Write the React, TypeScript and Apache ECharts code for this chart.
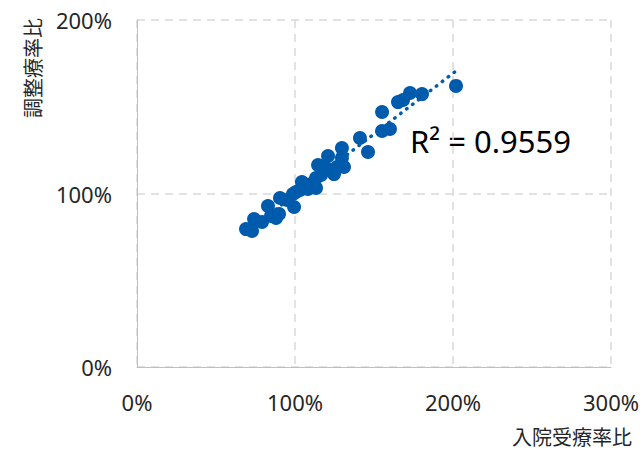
import React, { useEffect, useRef } from "react";
import * as echarts from "echarts";

// 入院受療率比 (x, %) and 調整療率比 (y, %)
const inpatientRatio = [
  69.0, 72.8, 74.1, 79.1, 82.9, 84.8, 88.0, 90.5, 89.9, 94.9,
  98.7, 100.6, 99.4, 103.2, 104.4, 106.3, 108.2, 110.1, 113.3, 113.3,
  114.6, 116.5, 119.6, 120.9, 124.7, 126.6, 129.7, 129.7, 131.0, 141.1,
  146.2, 155.1, 155.1, 160.1, 165.2, 168.4, 172.8, 180.4, 201.9,
];
const adjustedRatio = [
  79.5, 78.4, 85.3, 83.6, 92.8, 87.0, 85.9, 97.4, 88.2, 96.3,
  99.7, 100.9, 92.2, 102.0, 106.6, 103.7, 102.6, 105.5, 108.9, 103.2,
  116.4, 110.7, 114.7, 121.6, 111.2, 115.3, 120.5, 126.2, 115.3, 132.0,
  123.9, 147.0, 136.0, 137.2, 152.7, 153.9, 157.9, 157.3, 162.0,
];
const axisTicks = [0, 100, 200, 300];
const yTicks = [0, 100, 200];
// linear trendline
const trendSlope = 0.70;
const trendIntercept = 29.3;
const r2Label = "R² = 0.9559";
const xAxisTitle = "入院受療率比";
const yAxisTitle = "調整療率比";

const FONT = "'Noto Sans', 'Noto Sans CJK JP', sans-serif";
const BLUE = "#005BAC";

export default function App() {
  const ref = useRef<HTMLDivElement>(null);
  useEffect(() => {
    if (!ref.current) return;
    const chart = echarts.init(ref.current, null, { renderer: "svg" });
    const points = inpatientRatio.map((x, i) => [x, adjustedRatio[i]]);
    const xMin = Math.min(...inpatientRatio);
    const xMax = Math.max(...inpatientRatio);
    const trend = [
      [xMin, trendIntercept + trendSlope * xMin],
      [xMax, trendIntercept + trendSlope * xMax],
    ];
    chart.setOption({
      animation: false,
      textStyle: { fontFamily: FONT },
      grid: { left: 137, right: 32, top: 20, bottom: 82, containLabel: false },
      xAxis: {
        type: "value",
        min: axisTicks[0],
        max: axisTicks[axisTicks.length - 1],
        interval: 100,
        axisLine: { show: true, onZero: false, lineStyle: { color: "#BFBFBF", width: 1 } },
        axisTick: { show: false },
        axisLabel: {
          formatter: (v: number) => `${v}%`,
          fontSize: 22,
          color: "#262626",
          margin: 24,
          fontFamily: FONT,
        },
        splitLine: { show: true, lineStyle: { color: "#D9D9D9", type: [8, 6], width: 1.5 } },
      },
      yAxis: {
        type: "value",
        min: yTicks[0],
        max: yTicks[yTicks.length - 1],
        interval: 100,
        axisLine: { show: true, onZero: false, lineStyle: { color: "#BFBFBF", width: 1 } },
        axisTick: { show: false },
        axisLabel: {
          formatter: (v: number) => `${v}%`,
          fontSize: 22,
          color: "#262626",
          margin: 25,
          fontFamily: FONT,
        },
        splitLine: { show: true, lineStyle: { color: "#D9D9D9", type: [8, 6], width: 1.5 } },
      },
      series: [
        {
          type: "line",
          data: trend,
          symbol: "none",
          z: 1,
          lineStyle: { color: BLUE, width: 3.5, type: [0.5, 7], cap: "round" },
        },
        {
          type: "scatter",
          data: points,
          symbolSize: 14,
          z: 2,
          itemStyle: { color: BLUE, opacity: 1 },
        },
      ],
      graphic: [
        {
          type: "text",
          x: 410,
          y: 141,
          style: {
            text: r2Label,
            fontSize: 31,
            fontFamily: FONT,
            fill: "#000000",
            align: "left",
            verticalAlign: "middle",
          },
        },
        {
          type: "text",
          x: 632,
          y: 437,
          style: {
            text: xAxisTitle,
            fontSize: 20,
            lineHeight: 22,
            fontFamily: FONT,
            fill: "#262626",
            align: "right",
            verticalAlign: "middle",
          },
        },
        {
          type: "text",
          x: 33,
          y: 68,
          rotation: Math.PI / 2,
          style: {
            text: yAxisTitle,
            fontSize: 20,
            lineHeight: 22,
            fontFamily: FONT,
            fill: "#262626",
            align: "center",
            verticalAlign: "middle",
          },
        },
      ],
    });
    return () => chart.dispose();
  }, []);
  return (
    <div
      ref={ref}
      style={{ position: "fixed", left: 0, top: 0, width: 643, height: 449, background: "#fff" }}
    />
  );
}
